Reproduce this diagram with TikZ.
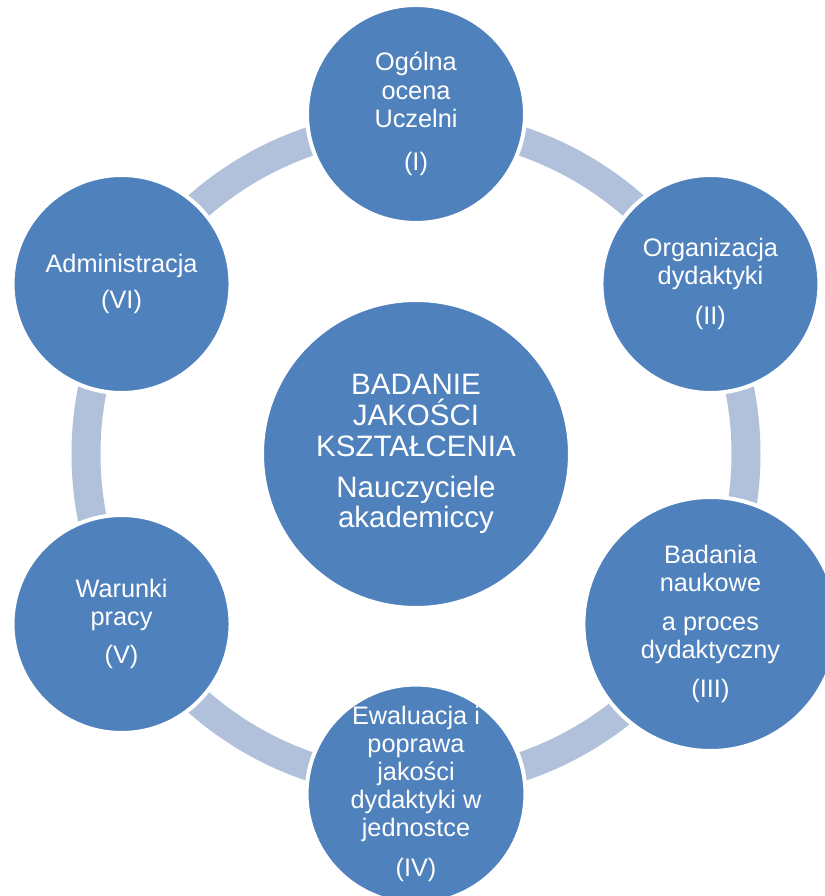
\documentclass[tikz,border=0pt]{standalone}
\usepackage{fontspec}
\setmainfont{Liberation Sans}
\usepackage{xcolor}
\usepackage{tikz}
\definecolor{CycleBlue}{HTML}{4F81BD}
\definecolor{RingBlue}{HTML}{B2C1DB}

\begin{document}
\begin{tikzpicture}[x=1cm,y=1cm,
  topic/.style={circle,fill=CycleBlue,draw=white,line width=1mm,text=white,
    align=center,inner sep=0pt,minimum size=5.45cm,font=\fontsize{18}{20}\selectfont},
  hub/.style={topic,minimum size=7.7cm,font=\fontsize{21}{22}\selectfont},
  ring/.style={RingBlue,line width=7.25mm}]
  \useasboundingbox (-10.4,-11.05) rectangle (10.2,11.35);
  \node[hub] (hub) at (0,0) {BADANIE\\JAKOŚCI\\KSZTAŁCENIA\\[0.25cm]Nauczyciele\\akademiccy};
  \draw[ring] (hub.center) circle[radius=8.25];
  \node[topic] (ocena) at (90:8.5) {Ogólna\\ocena\\Uczelni\\[0.38cm](I)};
  \node[topic] (organizacja) at (30:8.5) {Organizacja\\dydaktyki\\[0.28cm](II)};
  \node[topic,minimum size=6.35cm] (badania) at (-30:8.5) {Badania\\naukowe\\[0.26cm]a proces\\dydaktyczny\\[0.28cm](III)};
  \node[topic] (ewaluacja) at (-90:8.5) {Ewaluacja i\\poprawa\\jakości\\dydaktyki w\\jednostce\\[0.3cm](IV)};
  \node[topic] (warunki) at (-150:8.5) {Warunki\\pracy\\[0.25cm](V)};
  \node[topic] (administracja) at (150:8.5) {Administracja\\[0.18cm](VI)};
\end{tikzpicture}
\end{document}
